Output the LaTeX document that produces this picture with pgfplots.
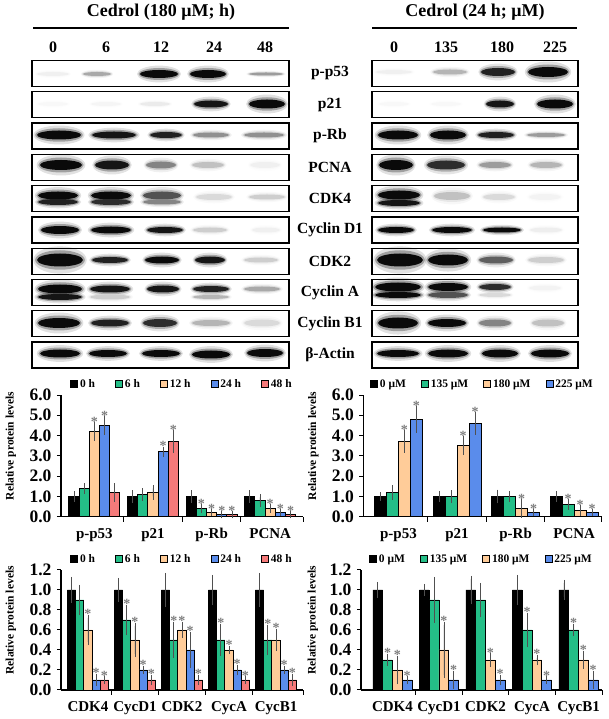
\documentclass[border=0pt]{standalone}
\usepackage{fontspec}
\setmainfont{Liberation Serif}
\usepackage{pgfplots}
\usepackage{pgfplotstable}
\pgfplotsset{compat=1.18}

\definecolor{cG}{RGB}{36,190,135}
\definecolor{cP}{RGB}{255,204,153}
\definecolor{cB}{RGB}{90,140,235}
\definecolor{cR}{RGB}{245,122,122}
\definecolor{errc}{RGB}{80,80,80}
\definecolor{starc}{RGB}{125,125,125}

\newcommand{\fs}[1]{\fontsize{#1}{#1}\selectfont\bfseries}

\pgfdeclareplotmark{band}{\pgfpathellipse{\pgfpointorigin}{\pgfpoint{1pt*\bandA}{0pt}}{\pgfpoint{0pt}{1pt*\bandB}}\pgfusepathqfill}
\pgfdeclareplotmark{bandh}{\pgfpathellipse{\pgfpointorigin}{\pgfpoint{1.08pt*\bandA}{0pt}}{\pgfpoint{0pt}{1.5pt*\bandB}}\pgfusepathqfill}
\pgfdeclareplotmark{bandhh}{\pgfpathellipse{\pgfpointorigin}{\pgfpoint{1.16pt*\bandA}{0pt}}{\pgfpoint{0pt}{2.1pt*\bandB}}\pgfusepathqfill}

% western blot bands: x (px), y (px from top), intensity, half width, half height
\pgfplotstableread{
x y i a b
53 74 0.06 16 2
97 74 0.35 14 2
159 74 1 19 4
208 74 1 18 4
266 74 0.4 17 1.5
394 72 0.06 18 2
450 72 0.3 17 2.5
498 72 0.9 17 4
548 72 1 20 5
53 104 0.03 15 2
106 104 0.04 15 2
155 104 0.08 15 2
211 104 0.95 17 3.5
267 104 1 18 4.5
394 104 0.03 15 2
446 104 0.03 15 2
500 104 0.95 14 3.5
555 104 1 18 4.5
59 135 1 22 4.5
114 135 0.95 22 3.5
166 135 0.9 16 3
211 135 0.45 18 2.5
264 135 0.45 20 2.5
398 135 1 20 4.5
448 135 1 18 4.5
496 135 0.9 18 3
546 135 0.4 19 2
61 165 1 21 5
112 165 0.95 17 4.5
161 165 0.5 15 3.5
208 165 0.25 16 3
265 165 0.06 15 3
396 165 1 17 5
446 165 0.85 19 4.5
495 165 0.4 16 3
546 165 0.3 16 3
58 195.5 1 20 4
58 202 0.9 20 3
111 195.5 1 20 4
111 202 0.85 20 3
162 195.5 0.7 19 4
162 202 0.5 19 2.5
214 197 0.15 18 3
267 197 0.2 18 2.5
399 195 1 21 4.5
399 203 0.95 21 3
452 196 0.25 18 4
499 197 0.15 16 3
545 197 0.05 16 3
60 230 1 19 4
111 230 1 20 3.5
165 230 0.95 18 3
210 230 0.2 17 2.5
266 230 0.06 14 2.5
396 230 1 18 3
452 230 1 20 3
502 230 1 19 2.5
546 230 0.07 16 2.5
60 260 1 23 6.5
110 260 0.9 18 3
162 260 1 17 3.5
210 260 0.95 15 3.5
261 260 0.2 17 2.5
400 260 1 23 6.5
448 260 1 20 5.5
496 260 0.65 17 3.5
546 260 0.2 18 3
60 289 1 22 4.5
60 297 0.95 22 3
110 289 0.95 20 3.5
110 297 0.2 20 2.5
163 289 0.95 16 3.5
211 289 0.9 18 3
211 297 0.3 18 2
262 289 0.35 18 2.5
398 287 1 23 4.5
398 295 1 23 3
448 287 1 20 4
448 295 0.7 20 3
495 287 0.85 16 3
495 295 0.15 16 2
545 288 0.05 16 2.5
59 323 1 21 5
110 323 0.9 19 3.5
160 323 0.85 17 4
211 323 0.3 19 3
262 323 0.15 18 3.5
398 323 1 20 5.5
447 323 1 19 4
495 323 0.5 16 3.5
548 323 0.25 16 3.5
60 353.5 1 20 4
108 353.5 1 19 3.5
161 353.5 1 19 3.5
211 354.5 1 19 4
265 353 1 18 4
398 353.5 1 21 3.5
448 353.5 1 20 4
500 353.5 1 18 4
550 353.5 1 19 4
}\blot

% bar charts: value, error, significance star
\pgfplotstableread{
x y0 e0 s0 y1 e1 s1 y2 e2 s2 y3 e3 s3 y4 e4 s4
0 1.0 0.10 0 1.4 0.10 0 4.2 0.30 1 4.5 0.30 1 1.2 0.30 0
1 1.0 0.15 0 1.1 0.15 0 1.2 0.20 0 3.2 0.10 1 3.7 0.40 1
2 1.0 0.15 0 0.4 0.05 1 0.2 0.03 1 0.1 0.02 1 0.1 0.02 1
3 1.0 0.15 0 0.8 0.15 0 0.4 0.05 1 0.2 0.03 1 0.1 0.02 1
}\TL
\pgfplotstableread{
x y0 e0 s0 y1 e1 s1 y2 e2 s2 y3 e3 s3
0 1.0 0.05 0 1.2 0.20 0 3.7 0.40 1 4.8 0.50 1
1 1.0 0.12 0 1.0 0.15 0 3.5 0.30 1 4.6 0.40 1
2 1.0 0.18 0 1.0 0.12 0 0.4 0.30 1 0.2 0.02 1
3 1.0 0.10 0 0.6 0.10 1 0.3 0.12 1 0.2 0.02 1
}\TR
\pgfplotstableread{
x y0 e0 s0 y1 e1 s1 y2 e2 s2 y3 e3 s3 y4 e4 s4
0 1.0 0.10 0 0.9 0.12 0 0.6 0.12 1 0.1 0.03 1 0.1 0.01 1
1 1.0 0.09 0 0.7 0.12 1 0.5 0.14 1 0.2 0.01 1 0.1 0.02 1
2 1.0 0.14 0 0.5 0.15 1 0.6 0.05 1 0.4 0.15 1 0.1 0.02 1
3 1.0 0.12 0 0.5 0.13 1 0.4 0.01 1 0.2 0.02 1 0.1 0.01 1
4 1.0 0.14 0 0.5 0.12 1 0.5 0.08 1 0.2 0.01 1 0.1 0.03 1
}\BL
\pgfplotstableread{
x y0 e0 s0 y1 e1 s1 y2 e2 s2 y3 e3 s3
0 1.0 0.05 0 0.3 0.03 1 0.2 0.11 1 0.1 0.01 1
1 1.0 0.03 0 0.9 0.20 0 0.4 0.25 1 0.1 0.06 1
2 1.0 0.11 0 0.9 0.14 0 0.3 0.04 1 0.1 0.02 1
3 1.0 0.12 0 0.6 0.14 1 0.3 0.02 1 0.1 0.01 1
4 1.0 0.07 0 0.6 0.03 1 0.3 0.06 1 0.1 0.06 1
}\BR

\pgfplotsset{
  barchart/.style={
    scale only axis, anchor=south west,
    axis x line*=bottom, axis y line*=left,
    axis line style={line width=1.1pt},
    ybar=0pt,
    tick align=outside,
    major tick length=4pt, minor tick length=5pt,
    tick style={black, line width=1pt},
    major x tick style={draw=none},
    /pgf/number format/assume math mode=true,
    /pgf/number format/fixed,
    /pgf/number format/fixed zerofill,
    /pgf/number format/precision=1,
    y tick label style={font=\fs{17.5}, xshift=-2pt},
    x tick label style={font=\fs{15}, yshift=-4pt},
    ylabel={Relative protein levels},
    ylabel style={font=\fs{11.5}, anchor=center},
    legend style={draw=none, fill=none, legend columns=-1, font=\fs{11.5},
      at={(0.5,1)}, anchor=south, yshift=4pt, inner sep=0pt,
      /tikz/every even column/.append style={column sep=#1}},
    point meta=explicit symbolic,
    nodes near coords={\ifnum\pgfplotspointmeta>0 *\fi},
    every node near coord/.append style={font=\fs{14}, text=starc, anchor=base, inner sep=0pt},
    error bars/y dir=both, error bars/y explicit,
    error bars/error bar style={errc, line width=0.7pt},
    error bars/error mark options={errc, line width=0.7pt, mark size=3.2pt},
    clip=false,
  },
}
% one bar series: colour, column index, table
\newcommand{\barser}[3]{%
  \addplot[fill=#1, draw=black, line width=0.9pt,
    visualization depends on={\thisrow{e#2} \as \err},
    legend image code/.code={\draw[fill=#1, draw=black, line width=0.8pt] (0pt,-3.5pt) rectangle (7pt,3.5pt);}]
    table[x=x,y=y#2,y error=e#2,meta=s#2] {#3};}

\begin{document}
\begin{tikzpicture}
\useasboundingbox (0,0) rectangle (608pt,719pt);

% ---------------- western blots ----------------
\begin{axis}[at={(0pt,0pt)}, anchor=south west, scale only axis,
  width=608pt, height=719pt, xmin=0, xmax=608, ymin=0, ymax=719,
  y dir=reverse, hide axis, clip=false,
  colormap={bw}{rgb255=(255,255,255) rgb255=(10,10,10)},
  point meta min=0, point meta max=1]
\addplot[scatter, only marks, mark=bandhh, point meta=\thisrow{i},
  scatter/use mapped color={draw=none, fill=mapped color, fill opacity=0.12},
  visualization depends on={\thisrow{a} \as \bandA},
  visualization depends on={\thisrow{b} \as \bandB}] table {\blot};
\addplot[scatter, only marks, mark=bandh, point meta=\thisrow{i},
  scatter/use mapped color={draw=none, fill=mapped color, fill opacity=0.3},
  visualization depends on={\thisrow{a} \as \bandA},
  visualization depends on={\thisrow{b} \as \bandB}] table {\blot};
\addplot[scatter, only marks, mark=band, point meta=\thisrow{i},
  scatter/use mapped color={draw=none, fill=mapped color},
  visualization depends on={\thisrow{a} \as \bandA},
  visualization depends on={\thisrow{b} \as \bandB}] table {\blot};

\pgfplotsinvokeforeach{0,...,9}{
  \draw[line width=1.3pt] (32,{73.5+31.28*#1-13}) rectangle (289,{73.5+31.28*#1+13});
  \draw[line width=1.3pt] (372,{73.5+31.28*#1-13}) rectangle (578,{73.5+31.28*#1+13});
}
\draw[line width=1.6pt] (33,28) -- (289,28);
\draw[line width=1.6pt] (372,28) -- (577,28);
\node[font=\fs{18}] at (161,12) {Cedrol (180 μM; h)};
\node[font=\fs{18}] at (475,12) {Cedrol (24 h; μM)};
\node[font=\fs{16}] at (53,47) {0};
\node[font=\fs{16}] at (106,47) {6};
\node[font=\fs{16}] at (161,47) {12};
\node[font=\fs{16}] at (214,47) {24};
\node[font=\fs{16}] at (265,47) {48};
\node[font=\fs{16}] at (394,47) {0};
\node[font=\fs{16}] at (446,47) {135};
\node[font=\fs{16}] at (502,47) {180};
\node[font=\fs{16}] at (555,47) {225};
\node[font=\fs{15.5}] at (330,73.5) {p-p53};
\node[font=\fs{15.5}] at (330,104.8) {p21};
\node[font=\fs{15.5}] at (330,136.1) {p-Rb};
\node[font=\fs{15.5}] at (330,167.3) {PCNA};
\node[font=\fs{15.5}] at (330,198.6) {CDK4};
\node[font=\fs{15.5}] at (330,229.9) {Cyclin D1};
\node[font=\fs{15.5}] at (330,261.2) {CDK2};
\node[font=\fs{15.5}] at (330,292.5) {Cyclin A};
\node[font=\fs{15.5}] at (330,323.7) {Cyclin B1};
\node[font=\fs{15.5}] at (330,355) {β-Actin};
\end{axis}

% ---------------- top left ----------------
\begin{axis}[barchart=18pt, at={(61pt,202.3pt)}, width=242pt, height=121.7pt,
  xmin=-0.57, xmax=3.56, ymin=0, ymax=6, ytick={0,1,...,6},
  bar width=0.174,
  xtick={0,1,2,3}, xticklabels={p-p53,p21,p-Rb,PCNA},
  minor xtick={0.5,1.5,2.5,3.56},
  ylabel style={at={(axis description cs:-0.207,0.58)}},
  every node near coord/.append style={yshift=\err*20.28pt-1pt}]
\barser{black}{0}{\TL}
\barser{cG}{1}{\TL}
\barser{cP}{2}{\TL}
\barser{cB}{3}{\TL}
\barser{cR}{4}{\TL}
\legend{0 h,6 h,12 h,24 h,48 h}
\end{axis}

% ---------------- top right ----------------
\begin{axis}[barchart=13pt, at={(363.3pt,202.3pt)}, width=238.4pt, height=121.7pt,
  xmin=-0.60, xmax=3.47, ymin=0, ymax=6, ytick={0,1,...,6},
  bar width=0.205,
  xtick={0,1,2,3}, xticklabels={p-p53,p21,p-Rb,PCNA},
  minor xtick={0.5,1.5,2.5,3.47},
  ylabel style={at={(axis description cs:-0.21,0.58)}},
  every node near coord/.append style={yshift=\err*20.28pt-1pt}]
\barser{black}{0}{\TR}
\barser{cG}{1}{\TR}
\barser{cP}{2}{\TR}
\barser{cB}{3}{\TR}
\legend{0 μM,135 μM,180 μM,225 μM}
\end{axis}

% ---------------- bottom left ----------------
\begin{axis}[barchart=18pt, at={(61pt,29pt)}, width=242pt, height=120pt,
  xmin=-0.574, xmax=4.574, ymin=0, ymax=1.2, ytick={0,0.2,...,1.2},
  bar width=0.175,
  xtick={0,1,2,3,4}, xticklabels={CDK4,CycD1,CDK2,CycA,CycB1},
  minor xtick={0.5,1.5,2.5,3.5,4.574},
  ylabel style={at={(axis description cs:-0.207,0.58)}},
  every node near coord/.append style={yshift=\err*100pt-1pt}]
\barser{black}{0}{\BL}
\barser{cG}{1}{\BL}
\barser{cP}{2}{\BL}
\barser{cB}{3}{\BL}
\barser{cR}{4}{\BL}
\legend{0 h,6 h,12 h,24 h,48 h}
\end{axis}

% ---------------- bottom right ----------------
\begin{axis}[barchart=13pt, at={(361pt,29pt)}, width=241pt, height=120pt,
  xmin=-0.677, xmax=4.505, ymin=0, ymax=1.2, ytick={0,0.2,...,1.2},
  bar width=0.21,
  xtick={0,1,2,3,4}, xticklabels={CDK4,CycD1,CDK2,CycA,CycB1},
  minor xtick={0.5,1.5,2.5,3.5,4.505},
  ylabel style={at={(axis description cs:-0.2,0.58)}},
  every node near coord/.append style={yshift=\err*100pt-1pt}]
\barser{black}{0}{\BR}
\barser{cG}{1}{\BR}
\barser{cP}{2}{\BR}
\barser{cB}{3}{\BR}
\legend{0 μM,135 μM,180 μM,225 μM}
\end{axis}
\end{tikzpicture}
\end{document}
